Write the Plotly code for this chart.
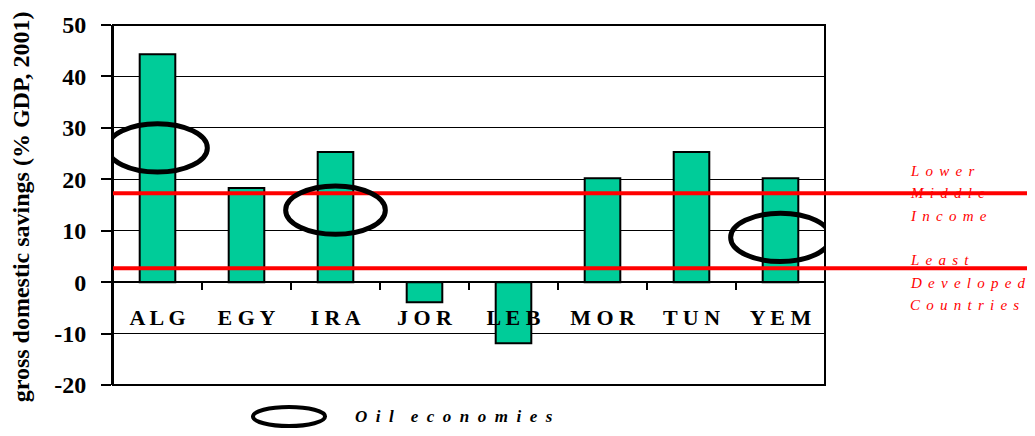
import plotly.graph_objects as go

# ---- data ----
categories = ["ALG", "EGY", "IRA", "JOR", "LEB", "MOR", "TUN", "YEM"]
savings = [44.3, 18.3, 25.3, -3.9, -11.9, 20.2, 25.3, 20.2]
benchmark_labels = [["Lower", "Middle", "Income"], ["Least", "Developed", "Countries"]]
benchmark_values = [17.3, 2.7]
oil_economies = ["ALG", "IRA", "YEM"]
oil_marker_y = [26.1, 14.0, 8.7]
y_ticks = [-20, -10, 0, 10, 20, 30, 40, 50]
y_tick_labels = [str(v) for v in y_ticks]
y_title = "gross domestic savings (% GDP, 2001)"
legend_text = "Oil economies"

SERIF = "Liberation Serif"
NB = "\u00a0"
SIXTH = "\u2006"

# vertical placement (pixels) of each label line relative to its benchmark line
label_line_shifts = [[22, 0, -23], [8, -15, -37]]


def spaced(text, gap):
    words = text.split(" ")
    return (NB * 4).join(gap.join(w) for w in words)


xlabels = [" ".join(c) for c in categories]
ymin, ymax = min(y_ticks), max(y_ticks)

fig = go.Figure(
    go.Bar(
        x=xlabels,
        y=savings,
        width=0.4,
        marker=dict(color="rgb(0,204,153)", line=dict(color="black", width=2)),
    )
)

shapes = []
# plot frame
shapes.append(dict(type="rect", xref="paper", yref="paper", x0=0, x1=1, y0=0, y1=1,
                   line=dict(color="black", width=2), layer="above"))
# benchmark lines
for v in benchmark_values:
    shapes.append(dict(type="line", xref="paper", yref="y", x0=0, x1=1.288, y0=v, y1=v,
                       line=dict(color="red", width=4), layer="above"))
# oil economy ellipses
for name, yc in zip(oil_economies, oil_marker_y):
    i = categories.index(name)
    shapes.append(dict(type="circle", xref="x", yref="y", x0=i - 0.56, x1=i + 0.56,
                       y0=yc - 4.7, y1=yc + 4.7, line=dict(color="black", width=5),
                       layer="above"))
# legend ellipse
shapes.append(dict(type="circle", xref="paper", yref="paper", x0=0.1966, x1=0.2978,
                   y0=-0.1139, y1=-0.0611, line=dict(color="black", width=4)))

annotations = []
# benchmark labels
for v, lines, shifts in zip(benchmark_values, benchmark_labels, label_line_shifts):
    for line, ys in zip(lines, shifts):
        annotations.append(dict(
            xref="paper", yref="y", x=1.117, y=v, xanchor="left", yanchor="middle",
            yshift=ys, align="left", showarrow=False,
            text=spaced(line, NB + SIXTH),
            font=dict(family=SERIF, size=15, color="red", style="italic"),
        ))
# legend text
annotations.append(dict(xref="paper", yref="paper", x=0.337, y=-0.088, xanchor="left",
                        yanchor="middle", showarrow=False,
                        text=spaced(legend_text, NB * 2),
                        font=dict(family=SERIF, size=17, color="black", style="italic",
                                  weight="bold")))
# y-axis title
annotations.append(dict(xref="paper", yref="paper", x=-0.128, y=0.496, textangle=-90,
                        xanchor="center", yanchor="middle",
                        showarrow=False, text=y_title,
                        font=dict(family=SERIF, size=24, color="black", weight="bold")))

# page body has an 8px margin: plot area sits at x 113-825, y 25-385 in the page
fig.update_layout(
    width=1035, height=436,
    margin=dict(l=105, r=218, t=17, b=59, autoexpand=False),
    plot_bgcolor="white", paper_bgcolor="white",
    showlegend=False,
    shapes=shapes, annotations=annotations,
    xaxis=dict(type="category", anchor="free", position=(0 - ymin) / (ymax - ymin),
               showline=True, linecolor="black", linewidth=2, automargin=False,
               ticks="outside", tickson="boundaries", ticklen=7, tickwidth=2,
               tickcolor="black", showgrid=False, ticklabelstandoff=15,
               tickfont=dict(family=SERIF, size=22, color="black", weight="bold"),
               range=[-0.5, len(categories) - 0.5]),
    yaxis=dict(range=[ymin, ymax], tickmode="array", tickvals=y_ticks,
               ticktext=y_tick_labels, showgrid=True, gridcolor="black", automargin=False,
               gridwidth=1, zeroline=False, showline=True, linecolor="black", linewidth=2,
               ticks="outside", ticklen=10, tickwidth=2, tickcolor="black",
               ticklabelstandoff=10,
               tickfont=dict(family=SERIF, size=24, color="black", weight="bold")),
)

fig.write_html("out.html")
